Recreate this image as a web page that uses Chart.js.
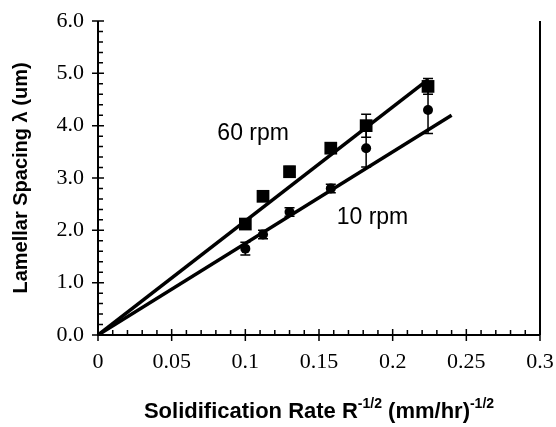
<!DOCTYPE html>
<html>
<head>
<meta charset="utf-8">
<script src="https://cdn.jsdelivr.net/npm/chart.js@4.4.0/dist/chart.umd.min.js"></script>
<style>
html, body { margin: 0; padding: 0; background: #fff; }
#wrap { width: 556px; height: 427px; position: relative; }
</style>
</head>
<body>
<div id="wrap"><canvas id="grafico"></canvas></div>
<script>
// valores
const xRate = [0.1, 0.112, 0.13, 0.158, 0.182, 0.224];
const spacing60 = [2.12, 2.65, 3.12, 3.57, 4.0, 4.75];
const erro60 = [0.04, 0.04, 0.1, 0.04, 0.22, 0.15];
const spacing10 = [1.65, 1.92, 2.35, 2.8, 3.57, 4.3];
const erro10 = [0.12, 0.08, 0.08, 0.08, 0.36, 0.45];
const fitX60 = [0, 0.224];
const fit60 = [0, 4.88];
const fitX10 = [0, 0.24];
const fit10 = [0, 4.2];
const xTickLabels = ['0', '0.05', '0.1', '0.15', '0.2', '0.25', '0.3'];
const yTickLabels = ['0.0', '1.0', '2.0', '3.0', '4.0', '5.0', '6.0'];

function pontos(xs, ys) {
    return xs.map(function (x, i) { return { x: x, y: ys[i] }; });
}

// barras de erro desenhadas pelas escalas do grafico
const barrasErro = {
    id: 'barrasErro',
    afterDatasetsDraw(chart) {
        const ctx = chart.ctx;
        const sx = chart.scales.x, sy = chart.scales.y;
        const series = [[spacing60, erro60], [spacing10, erro10]];
        ctx.save();
        ctx.strokeStyle = '#000';
        ctx.lineWidth = 1.5;
        series.forEach(function (s) {
            for (let i = 0; i < xRate.length; i++) {
                const px = sx.getPixelForValue(xRate[i]);
                const top = sy.getPixelForValue(s[0][i] + s[1][i]);
                const bot = sy.getPixelForValue(s[0][i] - s[1][i]);
                ctx.beginPath();
                ctx.moveTo(px, top); ctx.lineTo(px, bot);
                ctx.moveTo(px - 5, top); ctx.lineTo(px + 5, top);
                ctx.moveTo(px - 5, bot); ctx.lineTo(px + 5, bot);
                ctx.stroke();
            }
        });
        ctx.restore();
    }
};

// eixos, ticks menores, titulos e rotulos das curvas
const eixos = {
    id: 'eixos',
    afterDraw(chart) {
        const ctx = chart.ctx;
        const sx = chart.scales.x, sy = chart.scales.y;
        const a = chart.chartArea;
        ctx.save();
        ctx.strokeStyle = '#000';
        ctx.lineWidth = 2;
        ctx.beginPath();
        ctx.moveTo(a.left, a.top); ctx.lineTo(a.left, a.bottom); ctx.lineTo(a.right, a.bottom);
        ctx.moveTo(a.right, a.top); ctx.lineTo(a.right, a.bottom);
        ctx.stroke();

        ctx.lineWidth = 1.5;
        ctx.beginPath();
        for (let k = 0; k <= 30; k++) {
            const px = sx.getPixelForValue(k * 0.01);
            if (k % 5 == 0) {
                ctx.moveTo(px, a.bottom - 6); ctx.lineTo(px, a.bottom + 6);
            } else {
                ctx.moveTo(px, a.bottom - 5); ctx.lineTo(px, a.bottom);
            }
        }
        for (let k = 0; k <= 30; k++) {
            const py = sy.getPixelForValue(k * 0.2);
            if (k % 5 == 0) {
                ctx.moveTo(a.left - 6, py); ctx.lineTo(a.left + 6, py);
            } else {
                ctx.moveTo(a.left, py); ctx.lineTo(a.left + 5, py);
            }
        }
        ctx.stroke();

        ctx.fillStyle = '#000';
        ctx.textBaseline = 'middle';
        ctx.textAlign = 'left';
        ctx.font = '23px "Liberation Sans", Arial, sans-serif';
        ctx.fillText('60 rpm', sx.getPixelForValue(0.081), sy.getPixelForValue(3.84));
        ctx.fillText('10 rpm', sx.getPixelForValue(0.162), sy.getPixelForValue(2.24));

        // titulo do eixo x com expoentes
        const big = 'bold 22px "Liberation Sans", Arial, sans-serif';
        const small = 'bold 14px "Liberation Sans", Arial, sans-serif';
        const partes = [['Solidification Rate R', big, 0], ['-1/2', small, -8], [' (mm/hr)', big, 0], ['-1/2', small, -8]];
        let largura = 0;
        partes.forEach(function (p) { ctx.font = p[1]; largura += ctx.measureText(p[0]).width; });
        let x0 = (a.left + a.right) / 2 - largura / 2;
        const yTitulo = 412;
        partes.forEach(function (p) {
            ctx.font = p[1];
            ctx.fillText(p[0], x0, yTitulo + p[2]);
            x0 += ctx.measureText(p[0]).width;
        });

        ctx.translate(21, (a.top + a.bottom) / 2);
        ctx.rotate(-Math.PI / 2);
        ctx.textAlign = 'center';
        ctx.font = 'bold 20px "Liberation Sans", Arial, sans-serif';
        ctx.fillText('Lamellar Spacing \u03bb (um)', 0, 0);
        ctx.restore();
    }
};

const config = {
    type: 'scatter',
    data: {
        datasets: [
            {
                label: '60 rpm ajuste',
                type: 'line',
                data: pontos(fitX60, fit60),
                borderColor: '#000',
                borderWidth: 3.5,
                pointRadius: 0,
                fill: false
            },
            {
                label: '10 rpm ajuste',
                type: 'line',
                data: pontos(fitX10, fit10),
                borderColor: '#000',
                borderWidth: 3.5,
                pointRadius: 0,
                fill: false
            },
            {
                label: '60 rpm',
                data: pontos(xRate, spacing60),
                pointStyle: 'rect',
                pointRadius: 9,
                backgroundColor: '#000',
                borderColor: '#000',
                borderWidth: 0
            },
            {
                label: '10 rpm',
                data: pontos(xRate, spacing10),
                pointStyle: 'circle',
                pointRadius: 5,
                backgroundColor: '#000',
                borderColor: '#000',
                borderWidth: 0
            }
        ]
    },
    options: {
        responsive: true,
        maintainAspectRatio: false,
        animation: false,
        layout: {
            padding: { top: 21, right: 16, left: 0, bottom: 0 }
        },
        plugins: {
            legend: { display: false },
            tooltip: { enabled: false }
        },
        scales: {
            x: {
                type: 'linear',
                min: 0,
                max: 0.3,
                afterFit: function (s) { s.height = 92; s.paddingRight = 0; },
                grid: { display: false, drawTicks: false },
                border: { display: false },
                ticks: {
                    stepSize: 0.05,
                    padding: 14,
                    maxRotation: 0,
                    color: '#000',
                    font: { family: '"Liberation Serif", "Times New Roman", serif', size: 22 },
                    callback: function (v, i) { return xTickLabels[i]; }
                }
            },
            y: {
                type: 'linear',
                min: 0,
                max: 6,
                afterFit: function (s) { s.width = 98; s.paddingTop = 0; },
                grid: { display: false, drawTicks: false },
                border: { display: false },
                ticks: {
                    stepSize: 1,
                    padding: 14,
                    color: '#000',
                    font: { family: '"Liberation Serif", "Times New Roman", serif', size: 22 },
                    callback: function (v, i) { return yTickLabels[i]; }
                }
            }
        }
    },
    plugins: [barrasErro, eixos]
};

new Chart(document.getElementById('grafico'), config);
</script>
</body>
</html>
